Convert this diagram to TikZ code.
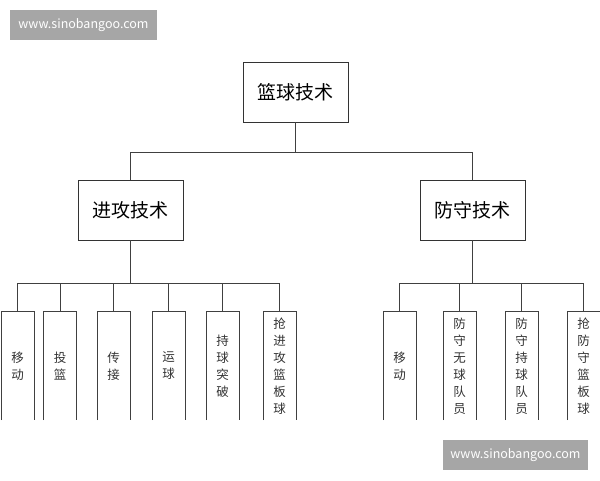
\documentclass[tikz,border=0pt]{standalone}
\usepackage{fontspec}
\setmainfont{Noto Sans CJK SC}
\begin{document}
\begin{tikzpicture}[x=1pt,y=-1pt,line width=0.9pt,
  bigbox/.style={draw=black!80,minimum width=105pt,minimum height=60pt,font=\fontsize{19}{22}\selectfont},
  leaftext/.style={align=center,font=\fontsize{12.5}{17}\selectfont,text=black!80},
  wm/.style={fill=black!35,text=white,font=\fontsize{12.5}{14}\selectfont,inner sep=0pt},
  ln/.style={draw=black!75}]
\useasboundingbox (0,0) rectangle (600,480);
\node[wm,minimum width=147pt,minimum height=30pt] (w1) at (83.5,25) {www.sinobangoo.com};
\node[wm,minimum width=145pt,minimum height=30pt] (w2) at (515.5,455) {www.sinobangoo.com};
\node[bigbox] (root) at (295.5,92) {篮球技术};
\node[bigbox] (att) at (130.5,210) {进攻技术};
\node[bigbox] (def) at (472.5,210) {防守技术};
\coordinate (j) at (295.5,152);
\coordinate (ja) at (130.5,152);
\coordinate (jd) at (472.5,152);
\draw[ln] (root.south) -- (j);
\draw[ln] (ja) -- (jd);
\draw[ln] (ja) -- (att.north);
\draw[ln] (jd) -- (def.north);
% left leaves
\coordinate (ba) at (130.5,283);
\draw[ln] (att.south) -- (ba);
\foreach \n/\x/\t in {l1/17.5/{移\\动},l2/60/{投\\篮},l3/113.5/{传\\接},l4/168.5/{运\\球},l5/222.5/{持\\球\\突\\破},l6/279.5/{抢\\进\\攻\\篮\\板\\球}}{
  \coordinate (\n top) at (\x,311);
  \coordinate (\n bus) at (\x,283);
  \draw[ln] (\n bus) -- (\n top);
  \draw[ln] (\x-16.5,420) -- (\x-16.5,311) -- (\x+16.5,311) -- (\x+16.5,420);
  \node[leaftext] (\n) at (\x,366) {\t};
}
\draw[ln] (l1bus) -- (l6bus);
% right leaves
\coordinate (bd) at (472.5,283);
\draw[ln] (def.south) -- (bd);
\foreach \n/\x/\t in {r1/399.5/{移\\动},r2/459.5/{防\\守\\无\\球\\队\\员},r3/521.5/{防\\守\\持\\球\\队\\员},r4/583.5/{抢\\防\\守\\篮\\板\\球}}{
  \coordinate (\n top) at (\x,311);
  \coordinate (\n bus) at (\x,283);
  \draw[ln] (\n bus) -- (\n top);
  \draw[ln] (\x-16.5,420) -- (\x-16.5,311) -- (\x+16.5,311) -- (\x+16.5,420);
  \node[leaftext] (\n) at (\x,366) {\t};
}
\draw[ln] (r1bus) -- (r4bus);
\end{tikzpicture}
\end{document}
